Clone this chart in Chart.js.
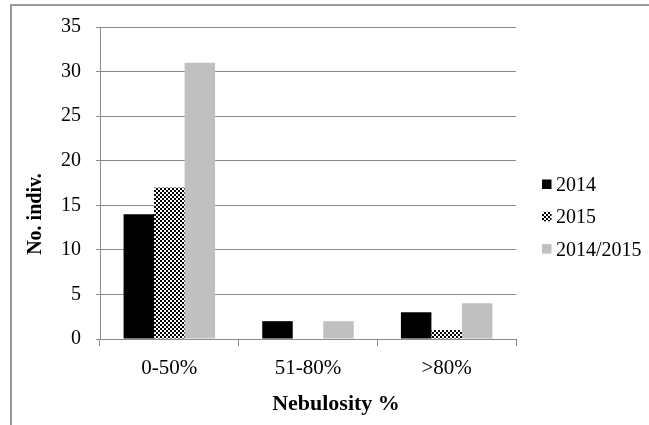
<!DOCTYPE html>
<html>
<head>
    <title>Nebulosity</title>
    <script src="https://cdn.jsdelivr.net/npm/chart.js"></script>
    <style>
        body { margin: 0; background: #fff; }
        #wrap { width: 649px; height: 425px; }
    </style>
</head>
<body>
    <div id="wrap">
        <canvas id="chart" width="649" height="425"></canvas>
    </div>

    <script>
        // data
        var categories = ['0-50%', '51-80%', '>80%'];
        var seriesNames = ['2014', '2015', '2014/2015'];
        var values2014 = [14, 2, 3];
        var values2015 = [17, 0, 1];
        var valuesBoth = [31, 2, 4];
        var yTicks = [0, 5, 10, 15, 20, 25, 30, 35];

        var serif = "'Liberation Serif', 'Times New Roman', serif";
        var gridColor = '#8a8a8a';

        // small black/white checkerboard like the Excel fill
        function makeChecker() {
            var c = document.createElement('canvas');
            c.width = 4; c.height = 4;
            var g = c.getContext('2d');
            g.fillStyle = '#ffffff';
            g.fillRect(0, 0, 4, 4);
            g.fillStyle = '#000000';
            g.fillRect(0, 0, 2, 2);
            g.fillRect(2, 2, 2, 2);
            return g.createPattern(c, 'repeat');
        }
        var checker = makeChecker();

        var framePlugin = {
            id: 'frame',
            afterDraw: function(chart) {
                var ctx = chart.ctx;
                ctx.save();
                // outer frame (top and left only visible)
                ctx.fillStyle = '#9a9a9a';
                ctx.fillRect(10, 4, 639, 2);
                ctx.fillRect(10, 4, 2, 421);

                // axis titles
                ctx.fillStyle = '#000';
                ctx.font = 'bold 22px ' + serif;
                ctx.textAlign = 'center';
                ctx.textBaseline = 'alphabetic';
                ctx.fillText('Nebulosity %', 336, 410);

                ctx.save();
                ctx.font = 'bold 20px ' + serif;
                ctx.translate(41, 214);
                ctx.rotate(-Math.PI / 2);
                ctx.fillText('No. indiv.', 0, 0);
                ctx.restore();

                // legend
                ctx.font = '20px ' + serif;
                ctx.textAlign = 'left';
                chart.data.datasets.forEach(function(ds, i) {
                    var cy = 184 + i * 32.3;
                    ctx.fillStyle = ds.backgroundColor;
                    ctx.fillRect(542, cy - 4.5, 9.5, 9.5);
                    ctx.fillStyle = '#000';
                    ctx.fillText(ds.label, 556, cy + 7);
                });
                ctx.restore();
            }
        };

        new Chart(document.getElementById('chart'), {
            type: 'bar',
            data: {
                labels: categories,
                datasets: [
                    { label: seriesNames[0], data: values2014, backgroundColor: '#000000' },
                    { label: seriesNames[1], data: values2015, backgroundColor: checker },
                    { label: seriesNames[2], data: valuesBoth, backgroundColor: '#c0c0c0' }
                ]
            },
            options: {
                responsive: false,
                animation: false,
                devicePixelRatio: 1,
                layout: { padding: { top: 25, right: 133, left: 0, bottom: 0 } },
                datasets: {
                    bar: { categoryPercentage: 0.66, barPercentage: 1.0, borderWidth: 0 }
                },
                plugins: {
                    legend: { display: false },
                    tooltip: { enabled: false }
                },
                scales: {
                    x: {
                        grid: { display: true, drawOnChartArea: false, drawTicks: true, tickLength: 7, color: gridColor, offset: true },
                        border: { display: true, color: gridColor, width: 1 },
                        ticks: { color: '#000', font: { family: serif, size: 21 }, padding: 10 },
                        afterFit: function(scale) { scale.height = 86; }
                    },
                    y: {
                        min: 0,
                        max: 35,
                        afterBuildTicks: function(scale) {
                            scale.ticks = yTicks.map(function(v) { return { value: v }; });
                        },
                        grid: { color: gridColor, tickLength: 4, drawTicks: true },
                        border: { display: true, color: gridColor, width: 1 },
                        ticks: { color: '#000', font: { family: serif, size: 20 }, padding: 15 },
                        afterFit: function(scale) { scale.width = 100; }
                    }
                }
            },
            plugins: [framePlugin]
        });
    </script>
</body>
</html>
